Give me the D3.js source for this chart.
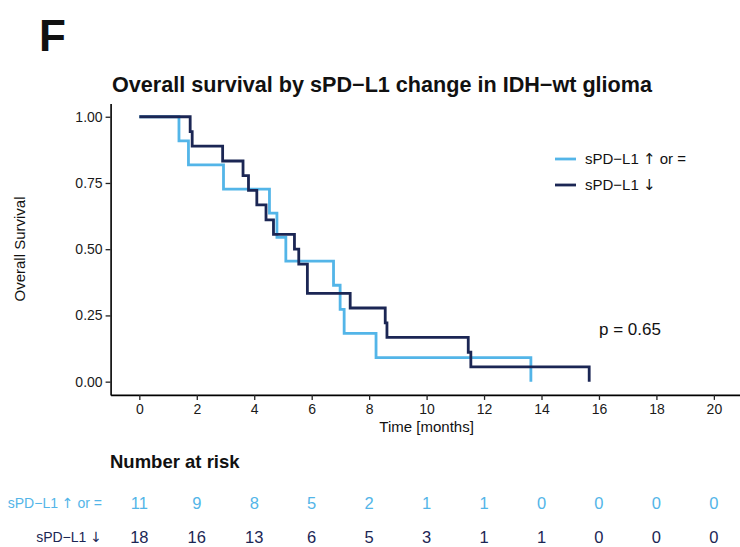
<!DOCTYPE html>
<html>
<head>
<meta charset="utf-8">
<script src="https://cdn.jsdelivr.net/npm/d3@7"></script>
<style>
  body { margin: 0; background: #fff; }
  svg { display: block; font-family: "Liberation Sans", Arial, sans-serif; }
</style>
</head>
<body>
<svg id="chart" width="740" height="547"></svg>
<script>
// ---- data ----
const lightTimes = [1.38, 1.71, 2.93, 4.53, 4.79, 5.10, 6.76, 6.99, 7.13, 8.24, 13.63];
const lightSurv  = [0.909, 0.818, 0.727, 0.636, 0.545, 0.455, 0.364, 0.273, 0.182, 0.091, 0];
const darkTimes  = [1.77, 1.84, 2.90, 3.61, 3.80, 4.09, 4.41, 4.67, 5.40, 5.55, 5.85, 7.34, 8.56, 8.62, 11.45, 11.54, 15.66];
const darkSurv   = [0.944, 0.889, 0.833, 0.778, 0.722, 0.667, 0.611, 0.556, 0.5, 0.444, 0.333, 0.278, 0.222, 0.167, 0.111, 0.056, 0];
const xTicks = [0, 2, 4, 6, 8, 10, 12, 14, 16, 18, 20];
const yTicks = [0, 0.25, 0.5, 0.75, 1];
const lightRisk = [11, 9, 8, 5, 2, 1, 1, 0, 0, 0, 0];
const darkRisk  = [18, 16, 13, 6, 5, 3, 1, 1, 0, 0, 0];
// label parts: [before arrow, arrow, after arrow]
const seriesNames = [["sPD\u2212L1 ", "\u2191", " or ="], ["sPD\u2212L1 ", "\u2193", ""]];
const pText = "p = 0.65";

const lightCol = "#53B5E8";
const darkCol = "#1B2654";

const svg = d3.select("#chart");
const x = d3.scaleLinear().domain([-1, 21]).range([110.6, 742.6]);
const y = d3.scaleLinear().domain([-0.05, 1.05]).range([394.9, 103.5]);

function labelText(sel, parts) {
  sel.append("tspan").text(parts[0]);
  sel.append("tspan").attr("font-family", "DejaVu Sans, sans-serif").text(parts[1]);
  if (parts[2]) sel.append("tspan").text(parts[2]);
}

// panel letter
svg.append("text").attr("x", 39).attr("y", 51)
  .attr("font-size", 44).attr("font-weight", "bold").attr("fill", "#111").text("F");

// title
svg.append("text").attr("x", 382).attr("y", 92).attr("text-anchor", "middle")
  .attr("font-size", 21.6).attr("font-weight", "bold").attr("fill", "#111")
  .text("Overall survival by sPD\u2212L1 change in IDH\u2212wt glioma");

// axes
const yAxis = d3.axisLeft(y).tickValues(yTicks).tickFormat(d3.format(".2f"))
  .tickSize(5).tickSizeOuter(0).tickPadding(3);
const gy = svg.append("g").attr("transform", "translate(110.6,0)").call(yAxis);
const xAxis = d3.axisBottom(x).tickValues(xTicks).tickFormat(d3.format("d"))
  .tickSize(5).tickSizeOuter(0).tickPadding(4);
const gx = svg.append("g").attr("transform", "translate(0,394.9)").call(xAxis);
[gx, gy].forEach(g => {
  g.select(".domain").attr("stroke", "#000").attr("stroke-width", 1.6);
  g.selectAll(".tick line").attr("stroke", "#222").attr("stroke-width", 1.3);
  g.selectAll(".tick text").attr("font-size", 14).attr("fill", "#1a1a1a")
    .attr("font-family", "Liberation Sans, Arial, sans-serif");
});

// axis titles
svg.append("text").attr("x", 426.6).attr("y", 432).attr("text-anchor", "middle")
  .attr("font-size", 15).attr("fill", "#111").text("Time [months]");
svg.append("text").attr("transform", "translate(25,249) rotate(-90)")
  .attr("text-anchor", "middle").attr("font-size", 15).attr("fill", "#111")
  .text("Overall Survival");

// curves
const line = d3.line().x(d => x(d[0])).y(d => y(d[1])).curve(d3.curveStepAfter);
function pts(times, surv) {
  return [[0, 1]].concat(times.map((t, i) => [t, surv[i]]));
}
svg.append("path").datum(pts(lightTimes, lightSurv)).attr("d", line)
  .attr("fill", "none").attr("stroke", lightCol).attr("stroke-width", 2.8);
svg.append("path").datum(pts(darkTimes, darkSurv)).attr("d", line)
  .attr("fill", "none").attr("stroke", darkCol).attr("stroke-width", 2.8);

// legend
const legY = [159, 185];
[lightCol, darkCol].forEach((c, i) => {
  svg.append("line").attr("x1", 555).attr("x2", 576).attr("y1", legY[i]).attr("y2", legY[i])
    .attr("stroke", c).attr("stroke-width", 2.8);
  const t = svg.append("text").attr("x", 585).attr("y", legY[i] + 5).attr("font-size", 15)
    .attr("fill", "#111");
  labelText(t, seriesNames[i]);
});

// p-value
svg.append("text").attr("x", 599).attr("y", 335).attr("font-size", 17).attr("fill", "#111").text(pText);

// risk table
svg.append("text").attr("x", 110).attr("y", 468).attr("font-size", 18.5).attr("font-weight", "bold")
  .attr("fill", "#111").text("Number at risk");
const rowY = [509, 543];
[lightRisk, darkRisk].forEach((r, i) => {
  const col = i === 0 ? lightCol : darkCol;
  const t = svg.append("text").attr("x", 102).attr("y", rowY[i] - 1).attr("text-anchor", "end")
    .attr("font-size", 14).attr("fill", col);
  labelText(t, seriesNames[i]);
  svg.selectAll(null).data(r).enter().append("text")
    .attr("x", (d, j) => x(xTicks[j])).attr("y", rowY[i]).attr("text-anchor", "middle")
    .attr("font-size", 16.5).attr("fill", col).text(d => d);
});
</script>
</body>
</html>
